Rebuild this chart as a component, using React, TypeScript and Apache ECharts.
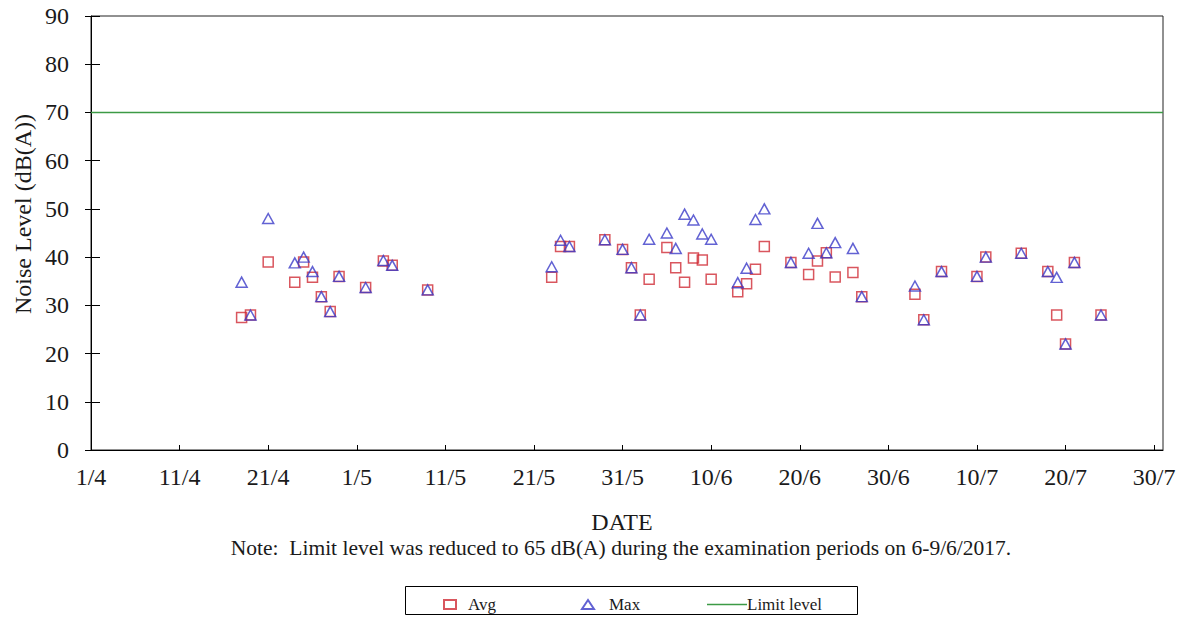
import React, { useEffect, useRef } from "react";
import * as echarts from "echarts";

// Measurement dates (2017)
const dates = [
  "2017-04-18", "2017-04-19", "2017-04-21", "2017-04-24", "2017-04-25", "2017-04-26",
  "2017-04-27", "2017-04-28", "2017-04-29", "2017-05-02", "2017-05-04", "2017-05-05",
  "2017-05-09", "2017-05-23", "2017-05-24", "2017-05-25", "2017-05-29", "2017-05-31",
  "2017-06-01", "2017-06-02", "2017-06-03", "2017-06-05", "2017-06-06", "2017-06-07",
  "2017-06-08", "2017-06-09", "2017-06-10", "2017-06-13", "2017-06-14", "2017-06-15",
  "2017-06-16", "2017-06-19", "2017-06-21", "2017-06-22", "2017-06-23", "2017-06-24",
  "2017-06-26", "2017-06-27", "2017-07-03", "2017-07-04", "2017-07-06", "2017-07-10",
  "2017-07-11", "2017-07-15", "2017-07-18", "2017-07-19", "2017-07-20", "2017-07-21",
  "2017-07-24",
];
const avgValues = [
  27.5, 28, 39, 34.8, 39, 35.8,
  31.8, 28.7, 36, 33.7, 39.2, 38.3,
  33.2, 35.8, 42.2, 42.2, 43.6, 41.6,
  37.8, 28, 35.4, 42, 37.8, 34.8,
  39.8, 39.4, 35.4, 32.8, 34.5, 37.5,
  42.2, 38.9, 36.4, 39.2, 40.9, 35.9,
  36.8, 31.8, 32.3, 27, 37, 36,
  40, 40.8, 37, 28, 22, 38.9,
  28,
];
const maxValues = [
  34.8, 28, 48, 38.8, 40, 37,
  31.8, 28.7, 36, 33.7, 39.3, 38.3,
  33.2, 38, 43.5, 42.2, 43.6, 41.6,
  37.8, 28, 43.7, 45, 41.8, 48.9,
  47.7, 44.8, 43.7, 34.7, 37.7, 47.8,
  50, 38.9, 40.8, 47, 40.9, 43,
  41.8, 31.8, 34, 27, 37, 36,
  40, 40.8, 37, 35.8, 22, 38.9,
  28,
];
const limitLevel = 70;
const startDate = "2017-04-01";
const endDate = "2017-07-31";
const yTicks = [0, 10, 20, 30, 40, 50, 60, 70, 80, 90];

const DAY = 86400000;
const base = Date.parse(startDate);
const toDay = (d: string) => Math.round((Date.parse(d) - base) / DAY);
const dayLabel = (v: number) => {
  const dt = new Date(base + v * DAY);
  return dt.getUTCDate() + "/" + (dt.getUTCMonth() + 1);
};

const FONT = "'Liberation Serif', 'DejaVu Serif', serif";
const TXT = "#1a1a1a";
const RED = "#d02c36";
const BLUE = "#3b3bc8";
const GREEN = "#3c9a46";

export default function App() {
  const ref = useRef<HTMLDivElement>(null);
  useEffect(() => {
    if (!ref.current) return;
    const chart = echarts.init(ref.current, undefined, { renderer: "svg" });
    const xMax = toDay(endDate);
    const avgData = dates.map((d, i) => [toDay(d), avgValues[i]]);
    const maxData = dates.map((d, i) => [toDay(d), maxValues[i]]);
    const yMax = yTicks[yTicks.length - 1];
    const legendText = { fontFamily: FONT, fontSize: 17, color: TXT };
    chart.setOption({
      animation: false,
      backgroundColor: "#fff",
      textStyle: { fontFamily: FONT },
      grid: {
        left: 91,
        right: 22,
        top: 16,
        bottom: 170,
        show: true,
        borderColor: "#222",
        borderWidth: 1,
        backgroundColor: "transparent",
      },
      xAxis: {
        type: "value",
        min: 0,
        max: xMax,
        interval: 10,
        splitLine: { show: false },
        axisLine: { lineStyle: { color: "#000", width: 1 } },
        axisTick: { inside: true, length: 5, lineStyle: { color: "#000" } },
        axisLabel: {
          fontFamily: FONT,
          fontSize: 24,
          color: TXT,
          margin: 15,
          showMaxLabel: false,
          formatter: (v: number) => (v % 10 === 0 ? dayLabel(v) : ""),
        },
      },
      yAxis: [
        {
          type: "value",
          min: 0,
          max: yMax,
          interval: 10,
          splitLine: { show: false },
          axisLine: { show: true, lineStyle: { color: "#000", width: 1 } },
          axisTick: { show: true, inside: false, length: 6, lineStyle: { color: "#000" } },
          axisLabel: { fontFamily: FONT, fontSize: 24, color: TXT, margin: 22 },
        },
        {
          type: "value",
          min: 0,
          max: yMax,
          interval: 10,
          position: "left",
          splitLine: { show: false },
          axisLine: { show: false },
          axisTick: { show: true, inside: true, length: 9, lineStyle: { color: "#000" } },
          axisLabel: { show: false },
        },
      ],
      legend: [
        {
          data: ["Avg"],
          left: 438,
          top: 591,
          itemWidth: 12,
          itemHeight: 9,
          textStyle: { ...legendText, padding: [0, 0, 0, 7] },
          selectedMode: false,
        },
        {
          data: ["Max"],
          left: 576,
          top: 591,
          itemWidth: 12,
          itemHeight: 9,
          textStyle: { ...legendText, padding: [0, 0, 0, 10] },
          selectedMode: false,
        },
        {
          data: [{ name: "Limit level", icon: "rect" }],
          left: 702,
          top: 591,
          itemWidth: 40,
          itemHeight: 1.5,
          textStyle: { ...legendText, padding: [0, 0, 0, -5] },
          selectedMode: false,
        },
      ],
      graphic: [
        {
          type: "rect",
          shape: { x: 405.5, y: 586.5, width: 452, height: 28 },
          style: { fill: "transparent", stroke: "#000", lineWidth: 1 },
          silent: true,
        },
        {
          type: "text",
          x: 622,
          y: 522,
          style: {
            text: "DATE",
            fontFamily: FONT,
            fontSize: 24,
            fill: TXT,
            align: "center",
            verticalAlign: "middle",
          },
        },
        {
          type: "text",
          x: 621,
          y: 548,
          style: {
            text: "Note:  Limit level was reduced to 65 dB(A) during the examination periods on 6-9/6/2017.",
            fontFamily: FONT,
            fontSize: 21.5,
            fill: TXT,
            align: "center",
            verticalAlign: "middle",
          },
        },
        {
          type: "text",
          x: 23,
          y: 214,
          rotation: Math.PI / 2,
          style: {
            text: "Noise Level (dB(A))",
            fontFamily: FONT,
            fontSize: 24,
            fill: TXT,
            align: "center",
            verticalAlign: "middle",
          },
        },
      ],
      series: [
        {
          name: "Limit level",
          type: "line",
          data: [
            [0, limitLevel],
            [xMax, limitLevel],
          ],
          symbol: "none",
          lineStyle: { color: GREEN, width: 1.5 },
          itemStyle: { color: GREEN },
          z: 1,
        },
        {
          name: "Avg",
          type: "scatter",
          data: avgData,
          symbol: "rect",
          symbolSize: 10,
          itemStyle: { color: "rgba(0,0,0,0)", borderColor: RED, borderWidth: 1.5 },
          z: 2,
        },
        {
          name: "Max",
          type: "scatter",
          data: maxData,
          symbol: "triangle",
          symbolSize: [11, 10],
          itemStyle: { color: "rgba(0,0,0,0)", borderColor: BLUE, borderWidth: 1.5 },
          z: 3,
        },
      ],
    });
    return () => chart.dispose();
  }, []);
  return (
    <div
      ref={ref}
      style={{ position: "fixed", left: 0, top: 0, width: 1185, height: 620, background: "#fff" }}
    />
  );
}
